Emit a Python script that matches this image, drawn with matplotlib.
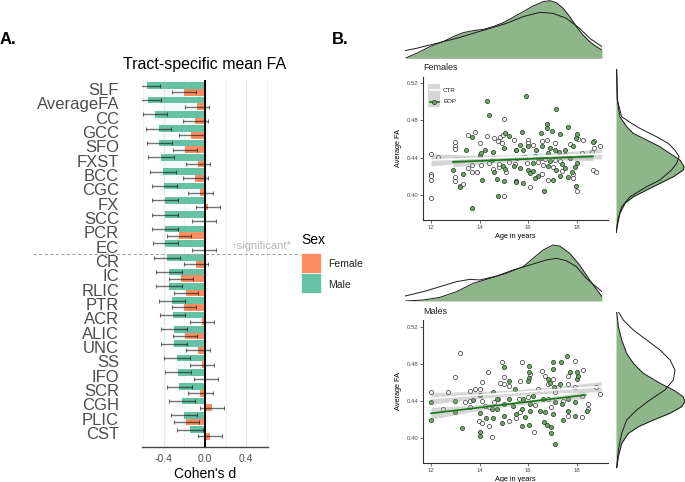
import numpy as np
import matplotlib.pyplot as plt
from matplotlib.patches import Rectangle
from matplotlib.lines import Line2D

plt.rcParams['font.family'] = ['Liberation Sans', 'DejaVu Sans']

# ---------------- panel A data ----------------
tracts = ["SLF", "AverageFA", "CC", "GCC", "SFO", "FXST", "BCC", "CGC", "FX", "SCC",
          "PCR", "EC", "CR", "IC", "RLIC", "PTR", "ACR", "ALIC", "UNC", "SS",
          "IFO", "SCR", "CGH", "PLIC", "CST"]
male_d = [-0.562, -0.556, -0.486, -0.448, -0.441, -0.429, -0.406, -0.394, -0.390, -0.390,
          -0.390, -0.384, -0.365, -0.349, -0.349, -0.317, -0.314, -0.302, -0.302, -0.270,
          -0.260, -0.248, -0.225, -0.206, -0.143]
female_d = [-0.206, -0.076, -0.092, -0.133, -0.197, -0.067, -0.092, -0.044, 0.032, -0.013,
            -0.254, -0.006, -0.086, -0.235, -0.184, -0.200, -0.029, -0.197, -0.067, -0.029,
            0.010, -0.044, 0.070, -0.181, 0.048]
male_se = [0.124, 0.127, 0.119, 0.121, 0.125, 0.124, 0.122, 0.124, 0.124, 0.124,
           0.124, 0.124, 0.124, 0.123, 0.124, 0.124, 0.124, 0.123, 0.124, 0.124,
           0.124, 0.124, 0.124, 0.124, 0.124]
female_se = [0.118, 0.119, 0.119, 0.119, 0.117, 0.117, 0.117, 0.117, 0.117, 0.117,
             0.116, 0.117, 0.119, 0.116, 0.117, 0.117, 0.117, 0.117, 0.117, 0.117,
             0.117, 0.117, 0.117, 0.119, 0.117]

# ---------------- panel B data: females ----------------
fem_ctr_age = [12.0, 12.3, 12.0, 12.0, 12.0, 12.0, 13.0, 13.0, 13.0, 13.0, 13.0, 13.2, 13.3,
               13.5, 13.8, 14.0, 13.7, 13.9, 13.5, 14.3, 14.6, 14.75, 14.85, 14.96, 15.0,
               14.9, 14.8, 15.0, 14.8, 15.1, 15.2, 13.7, 14.07, 14.4, 14.55, 15.4, 15.45,
               16.0, 16.0, 16.2, 16.55, 16.75, 17.1, 17.7, 18.05, 18.25, 18.7, 18.95, 18.7,
               15.55, 15.85, 16.35, 16.7, 17.1, 17.5, 18.2, 18.6, 15.95, 16.4, 16.6, 17.0,
               17.4, 17.85, 18.0, 18.65, 18.8, 16.07, 16.8, 16.55, 17.85, 16.27, 17.3]
fem_ctr_fa = [0.4436, 0.4407, 0.4226, 0.4200, 0.4165, 0.3970, 0.4570, 0.4530, 0.4490, 0.4190,
              0.4150, 0.4100, 0.4115, 0.4645, 0.4680, 0.4556, 0.4243, 0.4243, 0.4290, 0.4630,
              0.4610, 0.4580, 0.4620, 0.4645, 0.4810, 0.4556, 0.4300, 0.3987, 0.4330, 0.4243,
              0.4350, 0.4325, 0.4325, 0.4340, 0.4280, 0.4590, 0.4330,
              0.4590, 0.4555, 0.4540, 0.4575, 0.4590, 0.4555, 0.4545, 0.4595, 0.4590, 0.4575,
              0.4520, 0.4500, 0.4397, 0.4405, 0.4405, 0.4385, 0.4380, 0.4430, 0.4450, 0.4465,
              0.4340, 0.4350, 0.4325, 0.4300, 0.4255, 0.4180, 0.4045, 0.4270, 0.4250, 0.4087,
              0.4165, 0.4220, 0.4220, 0.4420, 0.4360]
fem_eop_age = [14.3, 14.4, 13.7, 12.9, 13.3, 13.2, 13.45, 13.7, 14.1, 14.0, 14.07, 14.2, 14.55,
               14.5, 14.6, 14.75, 14.7, 15.0, 15.0, 15.05, 15.2, 14.96, 15.05, 15.5, 15.4, 15.5,
               15.9, 17.15, 15.72, 16.75, 16.75, 16.5, 16.98, 17.3, 17.65, 18.0, 17.95, 18.65,
               15.65, 15.5, 15.8, 16.0, 16.3, 16.55, 16.9, 17.1, 17.5, 16.8, 17.25, 17.85,
               15.65, 16.0, 16.2, 16.4, 16.8, 17.15, 17.5, 17.9, 17.3, 17.0, 15.8, 15.5, 16.65,
               17.95, 17.65, 17.8, 16.27, 16.07, 16.5, 16.9, 17.4, 17.7, 18.0, 16.2]
fem_eop_fa = [0.5010, 0.4860, 0.3860, 0.4270, 0.4220, 0.4090, 0.4485, 0.4620, 0.4165, 0.4430,
              0.4450, 0.4485, 0.4465, 0.4380, 0.4243, 0.3987, 0.4170, 0.4147, 0.4500, 0.4660,
              0.4635, 0.4310, 0.4280, 0.4147, 0.4310, 0.4485,
              0.5056, 0.4923, 0.4680, 0.4757, 0.4720, 0.4660, 0.4690, 0.4656, 0.4727, 0.4656,
              0.4610, 0.4567, 0.4539, 0.4485, 0.4480, 0.4520, 0.4485, 0.4520, 0.4500, 0.4485,
              0.4485, 0.4450, 0.4465, 0.4520, 0.4290, 0.4270, 0.4340, 0.4200, 0.4310, 0.4270,
              0.4290, 0.4300, 0.4200, 0.4165, 0.4130, 0.4137, 0.4040, 0.4097, 0.4198, 0.4245,
              0.4180, 0.4236, 0.4400, 0.4360, 0.4330, 0.4400, 0.4340, 0.4260]

# ---------------- panel B data: males ----------------
mal_ctr_age = [13.18, 14.9, 13.0, 14.34, 14.1, 12.0, 12.7, 13.6, 13.8, 14.0, 15.0, 15.0, 14.85,
               15.2, 12.5, 13.4, 13.6, 14.1, 14.2, 13.6, 14.4, 13.97, 14.1, 14.4, 14.5, 15.2,
               14.6, 14.75, 15.72, 16.57, 17.9, 18.26, 17.64, 17.0, 16.7, 16.07, 15.65, 16.4,
               16.82, 17.23, 17.64, 17.9, 18.8, 18.95, 15.6, 16.0, 17.1, 18.2, 18.46, 18.46,
               18.2, 17.64, 16.95, 16.27, 16.82, 16.23, 15.65, 15.5, 17.44]
mal_ctr_fa = [0.4916, 0.4827, 0.4663, 0.4710, 0.4602, 0.4494, 0.4500, 0.4504, 0.4530, 0.4530,
              0.4656, 0.4584, 0.4600, 0.4566, 0.4314, 0.4386, 0.4404, 0.4400, 0.4343, 0.4340,
              0.4332, 0.4188, 0.4160, 0.4134, 0.4008, 0.4188, 0.4386, 0.4420,
              0.4818, 0.4720, 0.4829, 0.4739, 0.4674, 0.4638, 0.4674, 0.4690, 0.4620, 0.4530,
              0.4584, 0.4548, 0.4584, 0.4548, 0.4548, 0.4476, 0.4420, 0.4440, 0.4494, 0.4458,
              0.4368, 0.4314, 0.4224, 0.4242, 0.4332, 0.4357, 0.4420, 0.4061, 0.4278, 0.4216,
              0.4404]
mal_eop_age = [12.0, 12.0, 13.0, 13.0, 13.27, 13.72, 14.0, 14.0, 14.0, 14.0, 14.27, 14.55, 14.55,
               14.7, 14.7, 14.9, 15.0, 15.0, 15.2, 15.0, 15.2, 15.45, 15.35, 14.5,
               17.6, 17.33, 17.0, 17.03, 16.03, 16.03, 16.03, 16.0, 17.7, 18.0, 18.0, 18.05,
               16.82, 17.07, 17.3, 16.9, 16.2, 15.8, 16.07, 16.6, 17.1, 17.37, 17.64, 17.9,
               15.72, 16.07, 16.48, 16.68, 17.03, 17.64, 17.9, 18.4, 15.86, 15.72, 16.03, 16.65,
               16.75, 16.95, 17.44, 16.95, 17.1, 15.5]
mal_eop_fa = [0.4386, 0.4200, 0.4397, 0.4286, 0.4105, 0.4415, 0.4468, 0.4267, 0.4069, 0.4026,
              0.4220, 0.4220, 0.4494, 0.4310, 0.4420, 0.4160, 0.4764, 0.4368, 0.4613, 0.4242,
              0.4420, 0.4530, 0.4350, 0.4310,
              0.4883, 0.4818, 0.4818, 0.4746, 0.4775, 0.4717, 0.4645, 0.4616, 0.4710, 0.4710,
              0.4638, 0.4674, 0.4638, 0.4548, 0.4584, 0.4600, 0.4458, 0.4420, 0.4368, 0.4420,
              0.4386, 0.4368, 0.4420, 0.4386, 0.4314, 0.4296, 0.4296, 0.4278, 0.4260, 0.4296,
              0.4242, 0.4296, 0.4224, 0.4133, 0.4141, 0.4177, 0.4141, 0.4123, 0.4195, 0.4054,
              0.3935, 0.4260]

# fitted lines (age, fit, half-width of CI band)
fem_ctr_fit_age = [12.0, 13.75, 15.5, 17.25, 19.0]
fem_ctr_fit = [0.4375, 0.4391, 0.4408, 0.4424, 0.4440]
fem_ctr_fit_hw = [0.0065, 0.0035, 0.0022, 0.0032, 0.0055]
fem_eop_fit_age = [12.9, 14.35, 15.8, 17.2, 18.65]
fem_eop_fit = [0.4354, 0.4369, 0.4384, 0.4399, 0.4414]
fem_eop_fit_hw = [0.0055, 0.0030, 0.0020, 0.0025, 0.0045]
mal_ctr_fit_age = [12.0, 13.75, 15.5, 17.25, 19.0]
mal_ctr_fit = [0.4429, 0.4461, 0.4492, 0.4524, 0.4555]
mal_ctr_fit_hw = [0.0065, 0.0040, 0.0030, 0.0035, 0.0055]
mal_eop_fit_age = [12.0, 13.6, 15.2, 16.8, 18.35]
mal_eop_fit = [0.4267, 0.4317, 0.4367, 0.4417, 0.4465]
mal_eop_fit_hw = [0.0065, 0.0035, 0.0022, 0.0025, 0.0038]

# marginal densities
fem_top_eop_age = [11.0, 11.47, 12.01, 12.55, 12.96, 13.36, 13.77, 14.18, 14.58, 14.99, 15.39,
                   15.8, 16.2, 16.61, 16.88, 17.15, 17.42, 17.69, 17.96, 18.23, 18.5, 18.77, 19.0]
fem_top_eop_den = [0.0, 0.03, 0.07, 0.10, 0.13, 0.154, 0.166, 0.174, 0.19, 0.214, 0.246,
                   0.28, 0.314, 0.34, 0.346, 0.334, 0.30, 0.25, 0.19, 0.14, 0.10, 0.07, 0.05]
fem_top_ctr_age = [11.0, 11.47, 12.01, 12.55, 13.09, 13.77, 14.45, 15.12, 15.8, 16.47, 17.01,
                   17.55, 18.09, 18.5, 19.0]
fem_top_ctr_den = [0.046, 0.06, 0.08, 0.10, 0.12, 0.15, 0.18, 0.21, 0.25, 0.276, 0.27,
                   0.24, 0.18, 0.12, 0.07]
fem_right_eop_fa = [0.535, 0.5019, 0.4841, 0.4734, 0.4663, 0.4592, 0.4521, 0.445, 0.4379, 0.4307,
                    0.4272, 0.42, 0.413, 0.4059, 0.3987, 0.3917, 0.381, 0.3703, 0.3597]
fem_right_eop_den = [0.003, 0.007, 0.02, 0.055, 0.089, 0.157, 0.225, 0.276, 0.328, 0.35,
                     0.345, 0.294, 0.225, 0.157, 0.089, 0.046, 0.02, 0.009, 0.0]
fem_right_ctr_fa = [0.535, 0.5019, 0.4841, 0.477, 0.4716, 0.4627, 0.4556, 0.4485, 0.4414, 0.4343,
                    0.4272, 0.4165, 0.4094, 0.3987, 0.388, 0.3739, 0.3597]
fem_right_ctr_den = [0.003, 0.007, 0.029, 0.08, 0.123, 0.208, 0.268, 0.302, 0.324, 0.311,
                     0.285, 0.225, 0.157, 0.072, 0.029, 0.009, 0.0]
mal_top_eop_age = [11.0, 11.74, 12.42, 13.09, 13.77, 14.45, 15.12, 15.8, 16.2, 16.61, 17.01,
                   17.28, 17.69, 18.09, 18.5, 19.0]
mal_top_eop_den = [0.0, 0.006, 0.022, 0.056, 0.106, 0.136, 0.166, 0.206, 0.256, 0.306, 0.336,
                   0.33, 0.286, 0.216, 0.126, 0.026]
mal_top_ctr_age = [11.0, 11.74, 12.42, 13.09, 13.64, 14.04, 14.72, 15.39, 16.07, 16.74, 17.15,
                   17.55, 17.96, 18.36, 19.0]
mal_top_ctr_den = [0.03, 0.056, 0.086, 0.116, 0.13, 0.126, 0.15, 0.186, 0.216, 0.246, 0.256,
                   0.242, 0.206, 0.136, 0.056]
mal_right_eop_fa = [0.5376, 0.5214, 0.507, 0.4926, 0.4818, 0.471, 0.4602, 0.453, 0.4457, 0.4403,
                    0.4349, 0.4278, 0.4205, 0.4133, 0.4061, 0.3953, 0.3809, 0.3683]
mal_right_eop_den = [0.003, 0.012, 0.029, 0.054, 0.088, 0.139, 0.224, 0.292, 0.342, 0.351,
                     0.334, 0.275, 0.19, 0.114, 0.063, 0.029, 0.012, 0.003]
mal_right_ctr_fa = [0.5376, 0.5286, 0.5178, 0.507, 0.4962, 0.4854, 0.4746, 0.4638, 0.453, 0.4422,
                    0.4314, 0.4205, 0.4061, 0.3881, 0.3683]
mal_right_ctr_den = [0.012, 0.037, 0.088, 0.156, 0.224, 0.275, 0.30, 0.292, 0.249, 0.173,
                     0.105, 0.054, 0.029, 0.012, 0.003]

W, H = 685, 482
ORANGE = "#FC8D62"
TEAL = "#66C2A5"
DENS = "#8fb68b"
PT_GREEN = "#74a36d"
LINE_GREEN = "#137a13"

fig = plt.figure(figsize=(W / 100, H / 100), dpi=100)


def px_axes(left, top, right, bottom):
    return fig.add_axes([left / W, 1 - bottom / H, (right - left) / W, (bottom - top) / H])


def fx(px):
    return px / W


def fy(py):
    return 1 - py / H


# ================= A. =================
ax = px_axes(142, 80, 268, 447)
k = np.arange(len(tracts))[::-1]
for g in [-0.6, -0.2, 0.2, 0.6]:
    ax.axvline(g, color="#f0f0f0", lw=0.6, zorder=0)
for g in [-0.4, 0.4]:
    ax.axvline(g, color="#e6e6e6", lw=0.9, zorder=0)

ax.barh(k + 0.235, male_d, height=0.47, color=TEAL, zorder=1)
ax.barh(k - 0.235, female_d, height=0.47, color=ORANGE, zorder=1)
ax.errorbar(male_d, k + 0.235, xerr=male_se, fmt="none", ecolor=(0, 0, 0, 0.55),
            elinewidth=1.0, capsize=1.2, capthick=0.8, zorder=2)
ax.errorbar(female_d, k - 0.235, xerr=female_se, fmt="none", ecolor=(0, 0, 0, 0.55),
            elinewidth=1.0, capsize=1.2, capthick=0.8, zorder=2)
ax.axvline(0, color="black", lw=1.4, zorder=3)

ax.set_xlim(-0.61, 0.61)
ax.set_ylim(-0.98, 24.63)
ax.set_yticks(k)
ax.set_yticklabels(tracts, fontsize=12, color="#4d4d4d")
ax.tick_params(axis="y", length=0, pad=16.5)
ax.set_xticks([-0.4, 0.0, 0.4])
ax.set_xticklabels(["-0.4", "0.0", "0.4"], fontsize=7.5, color="#4d4d4d")
ax.tick_params(axis="x", length=0, pad=5)
ax.set_xlabel("Cohen's d", fontsize=10, labelpad=2)
for s in ["top", "left", "right"]:
    ax.spines[s].set_visible(False)
ax.spines["bottom"].set_color("#444444")
ax.spines["bottom"].set_linewidth(1.0)
ax.set_title("Tract-specific mean FA", fontsize=11.5, pad=8)

# significance divider
ax.plot([-1.667, 0.905], [12.5, 12.5], ls=(0, (3, 2)), color="#a6a6a6", lw=0.8,
        clip_on=False, zorder=4)
ax.text(0.257, 13.05, "\u2191significant*", fontsize=8, color="#b3b3b3",
        va="center", ha="left", clip_on=False)

# legend
fig.text(fx(301), fy(240), "Sex", fontsize=10, va="center", ha="left")
fig.add_artist(Rectangle((fx(301), fy(273)), fx(20), 20 / H, transform=fig.transFigure,
                         facecolor=ORANGE, edgecolor="white", lw=0.5))
fig.add_artist(Rectangle((fx(301), fy(293)), fx(20), 20 / H, transform=fig.transFigure,
                         facecolor=TEAL, edgecolor="white", lw=0.5))
fig.text(fx(328), fy(264), "Female", fontsize=7.5, va="center", color="#222222")
fig.text(fx(328), fy(285), "Male", fontsize=7.5, va="center", color="#222222")

fig.text(0.0, fy(39), "A.", fontsize=12, weight="bold", va="center")
fig.text(fx(332), fy(39), "B.", fontsize=12, weight="bold", va="center")


# ================= B. =================
def scatter_panel(box, ylim, title, ctr_age, ctr_fa, eop_age, eop_fa, fits):
    a = px_axes(*box)
    h = box[3] - box[1]
    a.scatter(ctr_age, ctr_fa, s=9, facecolor="white", edgecolor="#333333", linewidths=0.5,
              zorder=2)
    a.scatter(eop_age, eop_fa, s=9, facecolor=PT_GREEN, edgecolor="#1c3a1c", linewidths=0.5,
              zorder=2)
    for ages, fit, hw, col in fits:
        ages = np.array(ages)
        fit = np.array(fit)
        hw = np.array(hw)
        a.fill_between(ages, fit - hw, fit + hw, color="#999999", alpha=0.4, lw=0, zorder=3)
    for ages, fit, hw, col in fits:
        a.plot(ages, fit, color=col, lw=1.2, zorder=4)
    a.set_xlim(11.671, 19.274)
    a.set_ylim(*ylim)
    a.set_xticks([12, 14, 16, 18])
    a.set_yticks([0.40, 0.44, 0.48, 0.52])
    a.set_yticklabels(["0.40", "0.44", "0.48", "0.52"])
    a.tick_params(labelsize=4.3, labelcolor="#4d4d4d", length=2, width=0.5, pad=1.5,
                  color="#333333")
    for s in ["top", "right"]:
        a.spines[s].set_visible(False)
    for s in ["left", "bottom"]:
        a.spines[s].set_linewidth(0.8)
        a.spines[s].set_color("#333333")
    a.set_xlabel("Age in years", fontsize=5.3)
    a.set_ylabel("Average FA", fontsize=5.3)
    a.xaxis.set_label_coords(0.5, -13 / h)
    a.yaxis.set_label_coords((402 - box[0]) / (box[2] - box[0]), 0.5)
    a.text(0.0, 1 + 9 / h, title, transform=a.transAxes, fontsize=6.5,
           va="center", ha="left", color="#222222")
    return a


scatter_panel((423, 77, 608, 220), (0.3732, 0.5264), "Females",
              fem_ctr_age, fem_ctr_fa, fem_eop_age, fem_eop_fa,
              [(fem_ctr_fit_age, fem_ctr_fit, fem_ctr_fit_hw, "white"),
               (fem_eop_fit_age, fem_eop_fit, fem_eop_fit_hw, LINE_GREEN)])
scatter_panel((423, 320, 608, 463), (0.373, 0.5276), "Males",
              mal_ctr_age, mal_ctr_fa, mal_eop_age, mal_eop_fa,
              [(mal_ctr_fit_age, mal_ctr_fit, mal_ctr_fit_hw, "white"),
               (mal_eop_fit_age, mal_eop_fit, mal_eop_fit_hw, LINE_GREEN)])

# legend inside Females panel
fig.add_artist(Rectangle((fx(428), fy(107)), fx(12), 23 / H, transform=fig.transFigure,
                         facecolor="#d6d6d6", edgecolor="none"))
fig.add_artist(Line2D([fx(429.5), fx(438.5)], [fy(90), fy(90)], color="white", lw=1.2,
                      transform=fig.transFigure))
fig.add_artist(Line2D([fx(429.5), fx(438.5)], [fy(101.7), fy(101.7)], color=LINE_GREEN, lw=1.2,
                      transform=fig.transFigure))
fig.add_artist(Line2D([fx(434)], [fy(101.7)], marker="o", ms=3, mfc=PT_GREEN, mec="#1c3a1c",
                      mew=0.5, transform=fig.transFigure))
fig.text(fx(443), fy(90), "CTR", fontsize=4.5, va="center", color="#222222")
fig.text(fx(443), fy(101.7), "EOP", fontsize=4.5, va="center", color="#222222")


def top_density(box, ymax, eop_x, eop_y, ctr_x, ctr_y):
    a = px_axes(*box)
    a.fill_between(eop_x, 0, eop_y, color=DENS, lw=0)
    a.plot(eop_x, eop_y, color="#1a1a1a", lw=0.7)
    a.plot(ctr_x, ctr_y, color="#1a1a1a", lw=0.7)
    a.set_xlim(11, 19)
    a.set_ylim(0, ymax)
    a.axis("off")


def right_density(box, xmax, ylim, eop_y, eop_x, ctr_y, ctr_x):
    a = px_axes(*box)
    a.fill_betweenx(eop_y, 0, eop_x, color=DENS, lw=0)
    a.plot(eop_x, eop_y, color="#1a1a1a", lw=0.7)
    a.plot(ctr_x, ctr_y, color="#1a1a1a", lw=0.7)
    a.set_xlim(0, xmax)
    a.set_ylim(*ylim)
    a.axis("off")


top_density((405, 0, 602, 58.3), 0.35, fem_top_eop_age, fem_top_eop_den,
            fem_top_ctr_age, fem_top_ctr_den)
top_density((405, 240, 602, 301), 0.366, mal_top_eop_age, mal_top_eop_den,
            mal_top_ctr_age, mal_top_ctr_den)
right_density((616, 69, 685, 233.3), 0.354, (0.3597, 0.535),
              fem_right_eop_fa, fem_right_eop_den, fem_right_ctr_fa, fem_right_ctr_den)
right_density((616, 311.7, 685, 468.3), 0.351, (0.3683, 0.5376),
              mal_right_eop_fa, mal_right_eop_den, mal_right_ctr_fa, mal_right_ctr_den)

fig.savefig("out.png", dpi=100)
